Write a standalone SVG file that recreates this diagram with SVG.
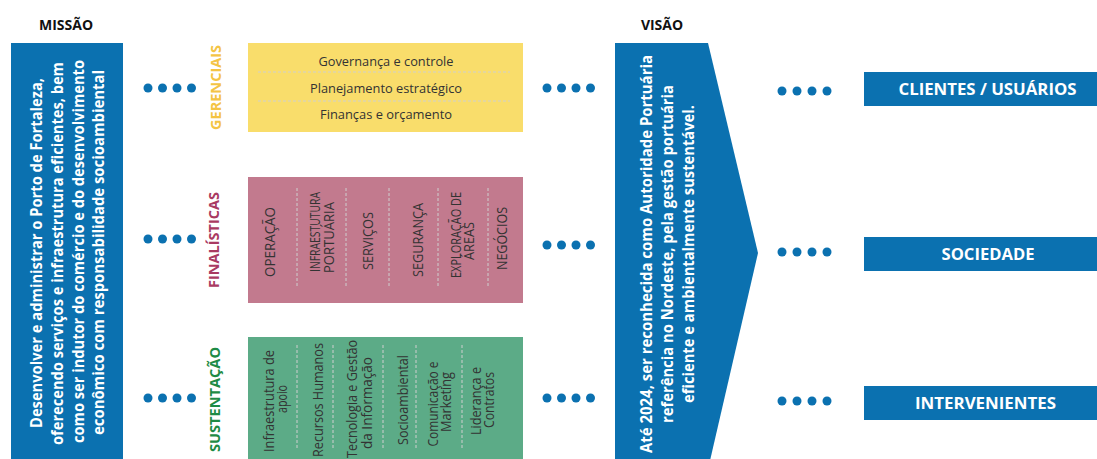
<svg xmlns="http://www.w3.org/2000/svg" width="1097" height="459" viewBox="0 0 1097 459">
  <defs>
    <style>
      .head { font-family: "Open Sans", "Liberation Sans", sans-serif; font-weight: 700; font-size: 14px; fill: #111; text-anchor: middle; }
      .blue { fill: #0B71B0; }
      .wbold { font-family: "Open Sans", "Liberation Sans", sans-serif; font-weight: 700; font-size: 16px; fill: #ffffff; text-anchor: middle; }
      .tag { font-family: "Open Sans", "Liberation Sans", sans-serif; font-weight: 700; font-size: 16px; fill: #ffffff; text-anchor: middle; }
      .side { font-family: "Open Sans", "Liberation Sans", sans-serif; font-weight: 700; font-size: 15px; text-anchor: middle; }
      .item { font-family: "Open Sans", "Liberation Sans", sans-serif; font-weight: 400; font-size: 13px; fill: #333333; text-anchor: middle; }
      .col { font-family: "Open Sans", "Liberation Sans", sans-serif; font-weight: 400; font-size: 14px; fill: #333333; text-anchor: middle; }
      .sep { stroke: #cfcfcf; stroke-width: 1; stroke-dasharray: 3 2; fill: none; }
      .dot { fill: #0B71B0; }
    </style>
  </defs>

  <rect width="1097" height="459" fill="#ffffff"/>

  <!-- Mission column -->
  <g id="missao">
    <text class="head" x="66" y="30">MISSÃO</text>
    <rect class="blue" x="11" y="43" width="112" height="420"/>
    <text class="wbold" transform="translate(42,253) rotate(-90)" textLength="350" lengthAdjust="spacingAndGlyphs">Desenvolver e administrar o Porto de Fortaleza,</text>
    <text class="wbold" transform="translate(63,253.5) rotate(-90)" textLength="383" lengthAdjust="spacingAndGlyphs">oferecendo serviços e infraestrutura eficientes, bem</text>
    <text class="wbold" transform="translate(84,251.5) rotate(-90)" textLength="383" lengthAdjust="spacingAndGlyphs">como ser indutor do comércio e do desenvolvimento</text>
    <text class="wbold" transform="translate(104,252.5) rotate(-90)" textLength="365" lengthAdjust="spacingAndGlyphs">econômico com responsabilidade socioambiental</text>
  </g>

  <!-- Managerial processes -->
  <g id="gerenciais">
    <text class="side" fill="#F4C444" transform="translate(221,87.5) rotate(-90)" textLength="85" lengthAdjust="spacingAndGlyphs">GERENCIAIS</text>
    <rect x="248" y="43" width="275" height="89" fill="#F9DD6B"/>
    <text class="item" x="386" y="66" textLength="135" lengthAdjust="spacingAndGlyphs">Governança e controle</text>
    <line class="sep" x1="258" y1="72" x2="510" y2="72"/>
    <text class="item" x="386" y="93" textLength="152" lengthAdjust="spacingAndGlyphs">Planejamento estratégico</text>
    <line class="sep" x1="258" y1="101" x2="510" y2="101"/>
    <text class="item" x="386" y="119" textLength="132" lengthAdjust="spacingAndGlyphs">Finanças e orçamento</text>
  </g>

  <!-- Core processes -->
  <g id="finalisticas">
    <text class="side" fill="#A93A62" transform="translate(219,240) rotate(-90)" textLength="96" lengthAdjust="spacingAndGlyphs">FINALÍSTICAS</text>
    <rect x="248" y="177" width="275" height="126" fill="#C27A8E"/>
    <line class="sep" x1="297" y1="188" x2="297" y2="288"/>
    <line class="sep" x1="346" y1="188" x2="346" y2="288"/>
    <line class="sep" x1="389" y1="188" x2="389" y2="288"/>
    <line class="sep" x1="438" y1="188" x2="438" y2="288"/>
    <line class="sep" x1="488" y1="188" x2="488" y2="288"/>
    <text class="col" transform="translate(275,242) rotate(-90)" textLength="70" lengthAdjust="spacingAndGlyphs">OPERAÇÃO</text>
    <text class="col" transform="translate(320,232) rotate(-90)" textLength="80" lengthAdjust="spacingAndGlyphs">INFRAESTUTURA</text>
    <text class="col" transform="translate(334,237.5) rotate(-90)" textLength="71" lengthAdjust="spacingAndGlyphs">PORTUÁRIA</text>
    <text class="col" transform="translate(373,241) rotate(-90)" textLength="58" lengthAdjust="spacingAndGlyphs">SERVIÇOS</text>
    <text class="col" transform="translate(423,240) rotate(-90)" textLength="74" lengthAdjust="spacingAndGlyphs">SEGURANÇA</text>
    <text class="col" transform="translate(461,235) rotate(-90)" textLength="86" lengthAdjust="spacingAndGlyphs">EXPLORAÇÃO DE</text>
    <text class="col" transform="translate(474,241) rotate(-90)" textLength="38" lengthAdjust="spacingAndGlyphs">ÁREAS</text>
    <text class="col" transform="translate(507,238.5) rotate(-90)" textLength="63" lengthAdjust="spacingAndGlyphs">NEGÓCIOS</text>
  </g>

  <!-- Support processes -->
  <g id="sustentacao">
    <text class="side" fill="#1E8B45" transform="translate(220,399.5) rotate(-90)" textLength="105" lengthAdjust="spacingAndGlyphs">SUSTENTAÇÃO</text>
    <rect x="248" y="337" width="275" height="126" fill="#5CAB87"/>
    <line class="sep" x1="297" y1="345" x2="297" y2="448"/>
    <line class="sep" x1="333" y1="345" x2="333" y2="448"/>
    <line class="sep" x1="383" y1="345" x2="383" y2="448"/>
    <line class="sep" x1="416" y1="345" x2="416" y2="448"/>
    <line class="sep" x1="462" y1="345" x2="462" y2="448"/>
    <text class="col" transform="translate(274,401) rotate(-90)" textLength="102" lengthAdjust="spacingAndGlyphs">Infraestrutura de</text>
    <text class="col" transform="translate(287,399) rotate(-90)" textLength="28" lengthAdjust="spacingAndGlyphs">apoio</text>
    <text class="col" transform="translate(323,400) rotate(-90)" textLength="114" lengthAdjust="spacingAndGlyphs">Recursos Humanos</text>
    <text class="col" transform="translate(357,399) rotate(-90)" textLength="118" lengthAdjust="spacingAndGlyphs">Tecnologia e Gestão</text>
    <text class="col" transform="translate(372,403) rotate(-90)" textLength="92" lengthAdjust="spacingAndGlyphs">da Informação</text>
    <text class="col" transform="translate(408,400) rotate(-90)" textLength="90" lengthAdjust="spacingAndGlyphs">Socioambiental</text>
    <text class="col" transform="translate(438,404) rotate(-90)" textLength="85" lengthAdjust="spacingAndGlyphs">Comunicação e</text>
    <text class="col" transform="translate(451,402) rotate(-90)" textLength="60" lengthAdjust="spacingAndGlyphs">Marketing</text>
    <text class="col" transform="translate(481,401) rotate(-90)" textLength="68" lengthAdjust="spacingAndGlyphs">Liderança e</text>
    <text class="col" transform="translate(494,400) rotate(-90)" textLength="56" lengthAdjust="spacingAndGlyphs">Contratos</text>
  </g>

  <!-- Vision arrow -->
  <g id="visao">
    <text class="head" x="662" y="30">VISÃO</text>
    <polygon class="blue" points="615,43 708,43 758,253 709,465 615,465"/>
    <text class="wbold" transform="translate(652,254) rotate(-90)" textLength="398" lengthAdjust="spacingAndGlyphs">Até 2024, ser reconhecida como Autoridade Portuária</text>
    <text class="wbold" transform="translate(673,254) rotate(-90)" textLength="338" lengthAdjust="spacingAndGlyphs">referência no Nordeste, pela gestão portuária</text>
    <text class="wbold" transform="translate(694,254) rotate(-90)" textLength="298" lengthAdjust="spacingAndGlyphs">eficiente e ambientalmente sustentável.</text>
  </g>

  <!-- Stakeholders -->
  <g id="clientes">
    <rect class="blue" x="864" y="72" width="246" height="34"/>
    <text class="tag" x="987.5" y="95" textLength="178" lengthAdjust="spacingAndGlyphs">CLIENTES / USUÁRIOS</text>
  </g>
  <g id="sociedade">
    <rect class="blue" x="864" y="237" width="246" height="34"/>
    <text class="tag" x="988" y="260" textLength="93" lengthAdjust="spacingAndGlyphs">SOCIEDADE</text>
  </g>
  <g id="intervenientes">
    <rect class="blue" x="864" y="386" width="246" height="34"/>
    <text class="tag" x="985.5" y="409" textLength="141" lengthAdjust="spacingAndGlyphs">INTERVENIENTES</text>
  </g>

  <!-- Dotted connectors -->
  <g id="connectors">
    <g transform="translate(148,88)">
      <circle class="dot" cx="0" r="4.5"/><circle class="dot" cx="14.5" r="4.5"/><circle class="dot" cx="29" r="4.5"/><circle class="dot" cx="43.5" r="4.5"/>
    </g>
    <g transform="translate(148,239)">
      <circle class="dot" cx="0" r="4.5"/><circle class="dot" cx="14.5" r="4.5"/><circle class="dot" cx="29" r="4.5"/><circle class="dot" cx="43.5" r="4.5"/>
    </g>
    <g transform="translate(148,398)">
      <circle class="dot" cx="0" r="4.5"/><circle class="dot" cx="14.5" r="4.5"/><circle class="dot" cx="29" r="4.5"/><circle class="dot" cx="43.5" r="4.5"/>
    </g>
    <g transform="translate(547,88)">
      <circle class="dot" cx="0" r="4.5"/><circle class="dot" cx="14.5" r="4.5"/><circle class="dot" cx="29" r="4.5"/><circle class="dot" cx="43.5" r="4.5"/>
    </g>
    <g transform="translate(547,245)">
      <circle class="dot" cx="0" r="4.5"/><circle class="dot" cx="14.5" r="4.5"/><circle class="dot" cx="29" r="4.5"/><circle class="dot" cx="43.5" r="4.5"/>
    </g>
    <g transform="translate(547,398)">
      <circle class="dot" cx="0" r="4.5"/><circle class="dot" cx="14.5" r="4.5"/><circle class="dot" cx="29" r="4.5"/><circle class="dot" cx="43.5" r="4.5"/>
    </g>
    <g transform="translate(782,91)">
      <circle class="dot" cx="0" r="4.5"/><circle class="dot" cx="15" r="4.5"/><circle class="dot" cx="30" r="4.5"/><circle class="dot" cx="45" r="4.5"/>
    </g>
    <g transform="translate(782,252)">
      <circle class="dot" cx="0" r="4.5"/><circle class="dot" cx="15" r="4.5"/><circle class="dot" cx="30" r="4.5"/><circle class="dot" cx="45" r="4.5"/>
    </g>
    <g transform="translate(782,401)">
      <circle class="dot" cx="0" r="4.5"/><circle class="dot" cx="15" r="4.5"/><circle class="dot" cx="30" r="4.5"/><circle class="dot" cx="45" r="4.5"/>
    </g>
  </g>
</svg>
